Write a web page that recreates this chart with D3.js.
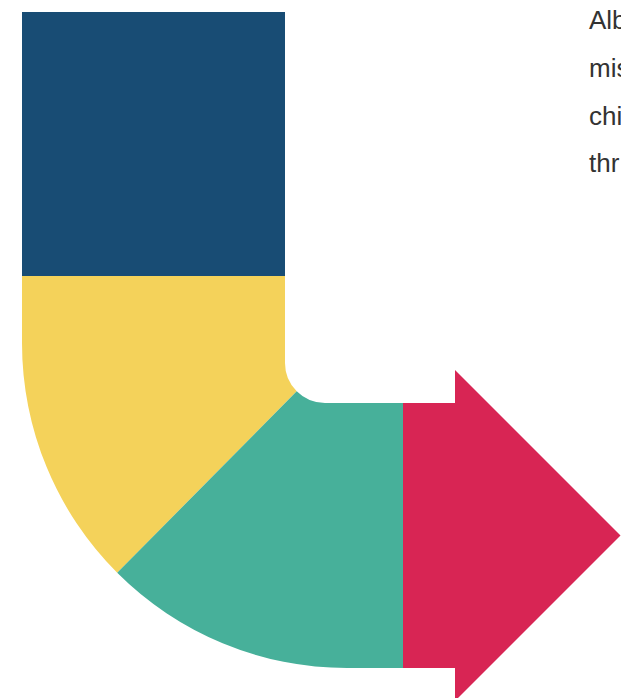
<!DOCTYPE html>
<html>
<head>
<meta charset="utf-8">
<script src="https://cdn.jsdelivr.net/npm/d3@7"></script>
<style>
  html, body { margin: 0; padding: 0; background: #fff; overflow: hidden; }
  svg { display: block; }
</style>
</head>
<body>
<svg id="chart" width="621" height="698"></svg>
<script>
// ---- data ----
const stages = ["Stage 1", "Stage 2", "Stage 3", "Stage 4"];
const stageColors = ["#184c74", "#f4d25a", "#47b09a", "#d82554"];
const textLines = ["Alb", "mis", "chi", "thr"];
const textBaselines = [29, 77, 124.5, 172];

// ---- layout ----
const svg = d3.select("#chart");
const color = d3.scaleOrdinal().domain(stages).range(stageColors);

const band = 263;             // thickness of the bent arrow
const x0 = 22, y0 = 12;
const inner = {cx: 325, cy: 363, r: 40};
const outer = {cx: 347, cy: 343, r: 325};
const yBottom = outer.cy + outer.r;
const bodyTop = yBottom - band - 2;
const redX = 403, headX = 455;
const mid = (bodyTop + yBottom) / 2;
const headHalf = mid - 370;

const shapes = [];

// Stage 1: vertical block
(function () {
  const p = d3.path();
  p.moveTo(x0, y0);
  p.lineTo(x0 + band, y0);
  p.lineTo(x0 + band, 276.5);
  p.lineTo(x0, 276.5);
  p.closePath();
  shapes.push(p.toString());
})();

// Stage 2: first half of the bend
(function () {
  const p = d3.path();
  p.moveTo(x0, 276);
  p.lineTo(x0 + band, 276);
  p.lineTo(x0 + band, inner.cy);
  p.arc(inner.cx, inner.cy, inner.r, Math.PI, 3 * Math.PI / 4, true);
  p.arc(outer.cx, outer.cy, outer.r, 3 * Math.PI / 4, Math.PI, false);
  p.closePath();
  shapes.push(p.toString());
})();

// Stage 3: second half of the bend
(function () {
  const p = d3.path();
  p.arc(inner.cx, inner.cy, inner.r, 3 * Math.PI / 4, Math.PI / 2, true);
  p.lineTo(redX + 0.5, bodyTop);
  p.lineTo(redX + 0.5, yBottom);
  p.lineTo(outer.cx, yBottom);
  p.arc(outer.cx, outer.cy, outer.r, Math.PI / 2, 3 * Math.PI / 4, false);
  p.closePath();
  shapes.push(p.toString());
})();

// Stage 4: arrow head
(function () {
  const p = d3.path();
  p.moveTo(redX, bodyTop);
  p.lineTo(headX, bodyTop);
  p.lineTo(headX, mid - headHalf);
  p.lineTo(headX + headHalf, mid);
  p.lineTo(headX, mid + headHalf);
  p.lineTo(headX, yBottom);
  p.lineTo(redX, yBottom);
  p.closePath();
  shapes.push(p.toString());
})();

svg.append("g").selectAll("path")
  .data(stages)
  .join("path")
  .attr("d", (d, i) => shapes[i])
  .attr("fill", d => color(d));

svg.append("g").selectAll("text")
  .data(textLines)
  .join("text")
  .attr("x", 589)
  .attr("y", (d, i) => textBaselines[i])
  .attr("font-family", "'Liberation Sans', Arial, sans-serif")
  .attr("font-size", 26)
  .attr("fill", "#333")
  .text(d => d);
</script>
</body>
</html>
